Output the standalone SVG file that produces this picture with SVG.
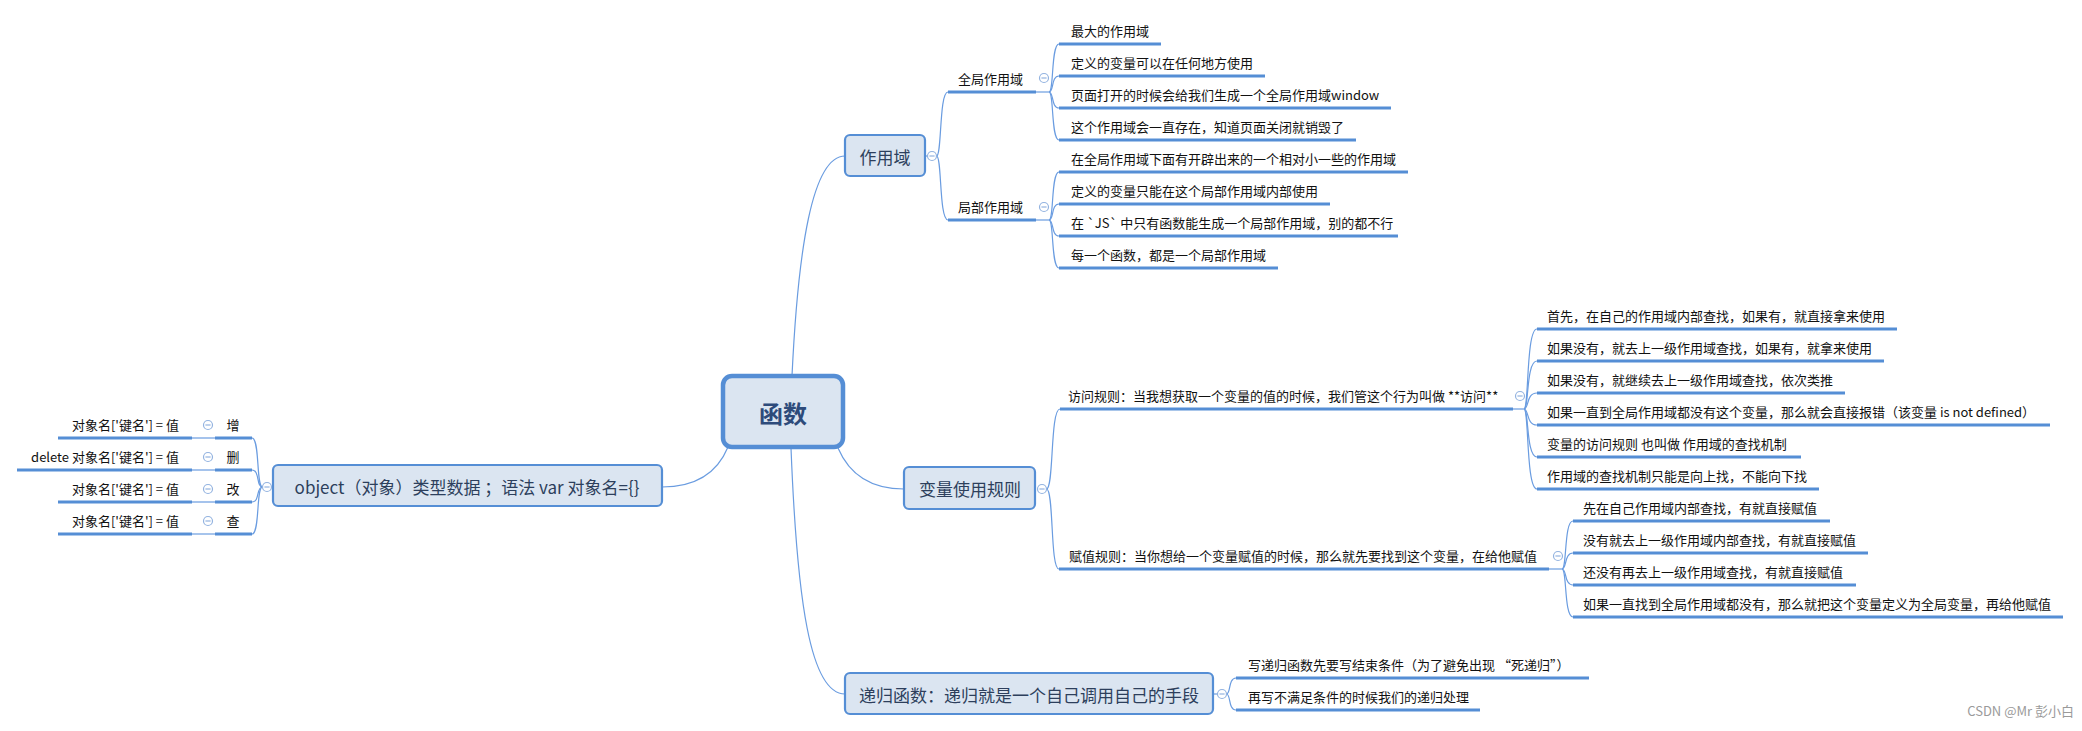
<svg xmlns="http://www.w3.org/2000/svg" width="2082" height="731" viewBox="0 0 2082 731">
<style>
.bg{fill:#ffffff}
.box{fill:#dbe5f1;stroke:#558ed5;stroke-width:2.2}
.root{fill:#dbe5f1;stroke:#558ed5;stroke-width:4.5}
.ul{stroke:#558ed5;stroke-width:3;fill:none}
.ln{stroke:#6a9ce0;stroke-width:1.2;fill:none}
.t{font-family:"Noto Sans CJK SC","Liberation Sans",sans-serif;font-size:13px;fill:#111}
.bt{font-family:"Noto Sans CJK SC","Liberation Sans",sans-serif;font-size:17px;fill:#2d3f5c;text-anchor:middle;dominant-baseline:central}
.rt{font-family:"Noto Sans CJK SC","Liberation Sans",sans-serif;font-size:24px;font-weight:bold;fill:#2e4b7b;text-anchor:middle;dominant-baseline:central}
.wm{font-family:"Noto Sans CJK SC","Liberation Sans",sans-serif;font-size:13px;fill:#9a9a9a}
</style>
<defs>
<g id="minus">
  <circle cx="0" cy="0" r="4.5" fill="#ffffff" stroke="#93b3e0" stroke-width="1.2"/>
  <line x1="-2.6" y1="0" x2="2.6" y2="0" stroke="#93b3e0" stroke-width="1.2"/>
</g>
</defs>
<rect class="bg" x="0" y="0" width="2082" height="731"/>

<g id="connectors">
  <path class="ln" d="M792,376 C798,250 812,156 845,156"/>
  <path class="ln" d="M791,448 C797,600 810,694 845,694"/>
  <path class="ln" d="M838,448 C850,476 872,489 904,489"/>
  <path class="ln" d="M728,447 C716,476 692,487 662,487"/>
  <line class="ln" x1="925" y1="156" x2="927.5" y2="156"/>
  <path class="ln" d="M936.5,156 C942,156 939,92 948,92"/>
  <path class="ln" d="M936.5,156 C942,156 939,220 948,220"/>
  <line class="ln" x1="1036" y1="92" x2="1049" y2="92"/>
  <path class="ln" d="M1049,92 C1054,92 1051,44 1059,44"/>
  <path class="ln" d="M1049,92 C1054,92 1051,76 1059,76"/>
  <path class="ln" d="M1049,92 C1054,92 1051,108 1059,108"/>
  <path class="ln" d="M1049,92 C1054,92 1051,140 1059,140"/>
  <line class="ln" x1="1036" y1="220" x2="1049" y2="220"/>
  <path class="ln" d="M1049,220 C1054,220 1051,172 1059,172"/>
  <path class="ln" d="M1049,220 C1054,220 1051,204 1059,204"/>
  <path class="ln" d="M1049,220 C1054,220 1051,236 1059,236"/>
  <path class="ln" d="M1049,220 C1054,220 1051,268 1059,268"/>
  <path class="ln" d="M1046.5,489 C1054,489 1050,409 1060,409"/>
  <path class="ln" d="M1046.5,489 C1054,489 1050,569 1059,569"/>
  <line class="ln" x1="1513" y1="409" x2="1524" y2="409"/>
  <path class="ln" d="M1524,409 C1529,409 1526,329 1537,329"/>
  <path class="ln" d="M1524,409 C1529,409 1526,361 1537,361"/>
  <path class="ln" d="M1524,409 C1529,409 1526,393 1537,393"/>
  <path class="ln" d="M1524,409 C1529,409 1526,425 1537,425"/>
  <path class="ln" d="M1524,409 C1529,409 1526,457 1537,457"/>
  <path class="ln" d="M1524,409 C1529,409 1526,489 1537,489"/>
  <line class="ln" x1="1549" y1="569" x2="1562" y2="569"/>
  <path class="ln" d="M1562,569 C1567,569 1564,521 1573,521"/>
  <path class="ln" d="M1562,569 C1567,569 1564,553 1573,553"/>
  <path class="ln" d="M1562,569 C1567,569 1564,585 1573,585"/>
  <path class="ln" d="M1562,569 C1567,569 1564,617 1573,617"/>
  <line class="ln" x1="1213" y1="694" x2="1217.5" y2="694"/>
  <path class="ln" d="M1226.5,694 C1231,694 1228,678 1236,678"/>
  <path class="ln" d="M1226.5,694 C1231,694 1228,710 1236,710"/>
  <path class="ln" d="M262.5,487 C256,487 260,438 252,438"/>
  <path class="ln" d="M262.5,487 C256,487 260,470 252,470"/>
  <path class="ln" d="M262.5,487 C256,487 260,502 252,502"/>
  <path class="ln" d="M262.5,487 C256,487 260,534 252,534"/>
  <line class="ln" x1="192" y1="438" x2="215" y2="438"/>
  <line class="ln" x1="192" y1="470" x2="215" y2="470"/>
  <line class="ln" x1="192" y1="502" x2="215" y2="502"/>
  <line class="ln" x1="192" y1="534" x2="215" y2="534"/>
</g>

<g id="root">
  <rect class="root" x="723" y="376" width="120" height="71" rx="9"/>
  <text class="rt" x="783" y="412">函数</text>
</g>

<g id="scope">
  <rect class="box" x="845" y="135" width="80" height="41" rx="5"/>
  <text class="bt" x="885" y="156">作用域</text>
  <use href="#minus" x="932" y="156"/>
</g>
<g id="global-scope">
  <line class="ul" x1="948" y1="92" x2="1036" y2="92"/>
  <text class="t" x="958" y="84">全局作用域</text>
  <use href="#minus" x="1044" y="78"/>
</g>
<g id="g1"><line class="ul" x1="1059" y1="44" x2="1161" y2="44"/><text class="t" x="1071" y="36">最大的作用域</text></g>
<g id="g2"><line class="ul" x1="1059" y1="76" x2="1265" y2="76"/><text class="t" x="1071" y="68">定义的变量可以在任何地方使用</text></g>
<g id="g3"><line class="ul" x1="1059" y1="108" x2="1391" y2="108"/><text class="t" x="1071" y="100">页面打开的时候会给我们生成一个全局作用域window</text></g>
<g id="g4"><line class="ul" x1="1059" y1="140" x2="1356" y2="140"/><text class="t" x="1071" y="132">这个作用域会一直存在，知道页面关闭就销毁了</text></g>
<g id="local-scope">
  <line class="ul" x1="948" y1="220" x2="1036" y2="220"/>
  <text class="t" x="958" y="212">局部作用域</text>
  <use href="#minus" x="1044" y="207"/>
</g>
<g id="l1"><line class="ul" x1="1059" y1="172" x2="1408" y2="172"/><text class="t" x="1071" y="164">在全局作用域下面有开辟出来的一个相对小一些的作用域</text></g>
<g id="l2"><line class="ul" x1="1059" y1="204" x2="1330" y2="204"/><text class="t" x="1071" y="196">定义的变量只能在这个局部作用域内部使用</text></g>
<g id="l3"><line class="ul" x1="1059" y1="236" x2="1398" y2="236"/><text class="t" x="1071" y="228">在 `JS` 中只有函数能生成一个局部作用域，别的都不行</text></g>
<g id="l4"><line class="ul" x1="1059" y1="268" x2="1278" y2="268"/><text class="t" x="1071" y="260">每一个函数，都是一个局部作用域</text></g>

<g id="var-rules">
  <rect class="box" x="904" y="467" width="131" height="42" rx="5"/>
  <text class="bt" x="970" y="488">变量使用规则</text>
  <use href="#minus" x="1042" y="489"/>
</g>
<g id="access">
  <line class="ul" x1="1060" y1="409" x2="1513" y2="409"/>
  <text class="t" x="1068" y="401">访问规则：当我想获取一个变量的值的时候，我们管这个行为叫做 **访问**</text>
  <use href="#minus" x="1520" y="396"/>
</g>
<g id="a1"><line class="ul" x1="1537" y1="329" x2="1897" y2="329"/><text class="t" x="1547" y="321">首先，在自己的作用域内部查找，如果有，就直接拿来使用</text></g>
<g id="a2"><line class="ul" x1="1537" y1="361" x2="1884" y2="361"/><text class="t" x="1547" y="353">如果没有，就去上一级作用域查找，如果有，就拿来使用</text></g>
<g id="a3"><line class="ul" x1="1537" y1="393" x2="1845" y2="393"/><text class="t" x="1547" y="385">如果没有，就继续去上一级作用域查找，依次类推</text></g>
<g id="a4"><line class="ul" x1="1537" y1="425" x2="2050" y2="425"/><text class="t" x="1547" y="417">如果一直到全局作用域都没有这个变量，那么就会直接报错（该变量 is not defined）</text></g>
<g id="a5"><line class="ul" x1="1537" y1="457" x2="1801" y2="457"/><text class="t" x="1547" y="449">变量的访问规则 也叫做 作用域的查找机制</text></g>
<g id="a6"><line class="ul" x1="1537" y1="489" x2="1819" y2="489"/><text class="t" x="1547" y="481">作用域的查找机制只能是向上找，不能向下找</text></g>
<g id="assign">
  <line class="ul" x1="1059" y1="569" x2="1549" y2="569"/>
  <text class="t" x="1069" y="561">赋值规则：当你想给一个变量赋值的时候，那么就先要找到这个变量，在给他赋值</text>
  <use href="#minus" x="1558" y="556"/>
</g>
<g id="s1"><line class="ul" x1="1573" y1="521" x2="1830" y2="521"/><text class="t" x="1583" y="513">先在自己作用域内部查找，有就直接赋值</text></g>
<g id="s2"><line class="ul" x1="1573" y1="553" x2="1868" y2="553"/><text class="t" x="1583" y="545">没有就去上一级作用域内部查找，有就直接赋值</text></g>
<g id="s3"><line class="ul" x1="1573" y1="585" x2="1856" y2="585"/><text class="t" x="1583" y="577">还没有再去上一级作用域查找，有就直接赋值</text></g>
<g id="s4"><line class="ul" x1="1573" y1="617" x2="2063" y2="617"/><text class="t" x="1583" y="609">如果一直找到全局作用域都没有，那么就把这个变量定义为全局变量，再给他赋值</text></g>

<g id="recursion">
  <rect class="box" x="845" y="673" width="368" height="41" rx="5"/>
  <text class="bt" x="1029" y="694">递归函数：递归就是一个自己调用自己的手段</text>
  <use href="#minus" x="1222" y="694"/>
</g>
<g id="r1"><line class="ul" x1="1236" y1="678" x2="1589" y2="678"/><text class="t" x="1248" y="670">写递归函数先要写结束条件（为了避免出现 “死递归”）</text></g>
<g id="r2"><line class="ul" x1="1236" y1="710" x2="1480" y2="710"/><text class="t" x="1248" y="702">再写不满足条件的时候我们的递归处理</text></g>

<g id="object">
  <rect class="box" x="273" y="465" width="389" height="41" rx="5"/>
  <text class="bt" x="467" y="486">object（对象）类型数据 ；语法 var 对象名={}</text>
  <use href="#minus" x="267" y="487"/>
</g>
<g id="add">
  <line class="ul" x1="215" y1="438" x2="252" y2="438"/>
  <text class="t" x="233" y="430" text-anchor="middle">增</text>
  <use href="#minus" x="208" y="425"/>
</g>
<g id="add-v"><line class="ul" x1="58" y1="438" x2="192" y2="438"/><text class="t" x="179" y="430" text-anchor="end">对象名['键名'] = 值</text></g>
<g id="del">
  <line class="ul" x1="215" y1="470" x2="252" y2="470"/>
  <text class="t" x="233" y="462" text-anchor="middle">删</text>
  <use href="#minus" x="208" y="457"/>
</g>
<g id="del-v"><line class="ul" x1="17" y1="470" x2="192" y2="470"/><text class="t" x="179" y="462" text-anchor="end">delete 对象名['键名'] = 值</text></g>
<g id="mod">
  <line class="ul" x1="215" y1="502" x2="252" y2="502"/>
  <text class="t" x="233" y="494" text-anchor="middle">改</text>
  <use href="#minus" x="208" y="489"/>
</g>
<g id="mod-v"><line class="ul" x1="58" y1="502" x2="192" y2="502"/><text class="t" x="179" y="494" text-anchor="end">对象名['键名'] = 值</text></g>
<g id="query">
  <line class="ul" x1="215" y1="534" x2="252" y2="534"/>
  <text class="t" x="233" y="526" text-anchor="middle">查</text>
  <use href="#minus" x="208" y="521"/>
</g>
<g id="query-v"><line class="ul" x1="58" y1="534" x2="192" y2="534"/><text class="t" x="179" y="526" text-anchor="end">对象名['键名'] = 值</text></g>

<text class="wm" x="2074" y="716" text-anchor="end">CSDN @Mr 彭小白</text>
</svg>
